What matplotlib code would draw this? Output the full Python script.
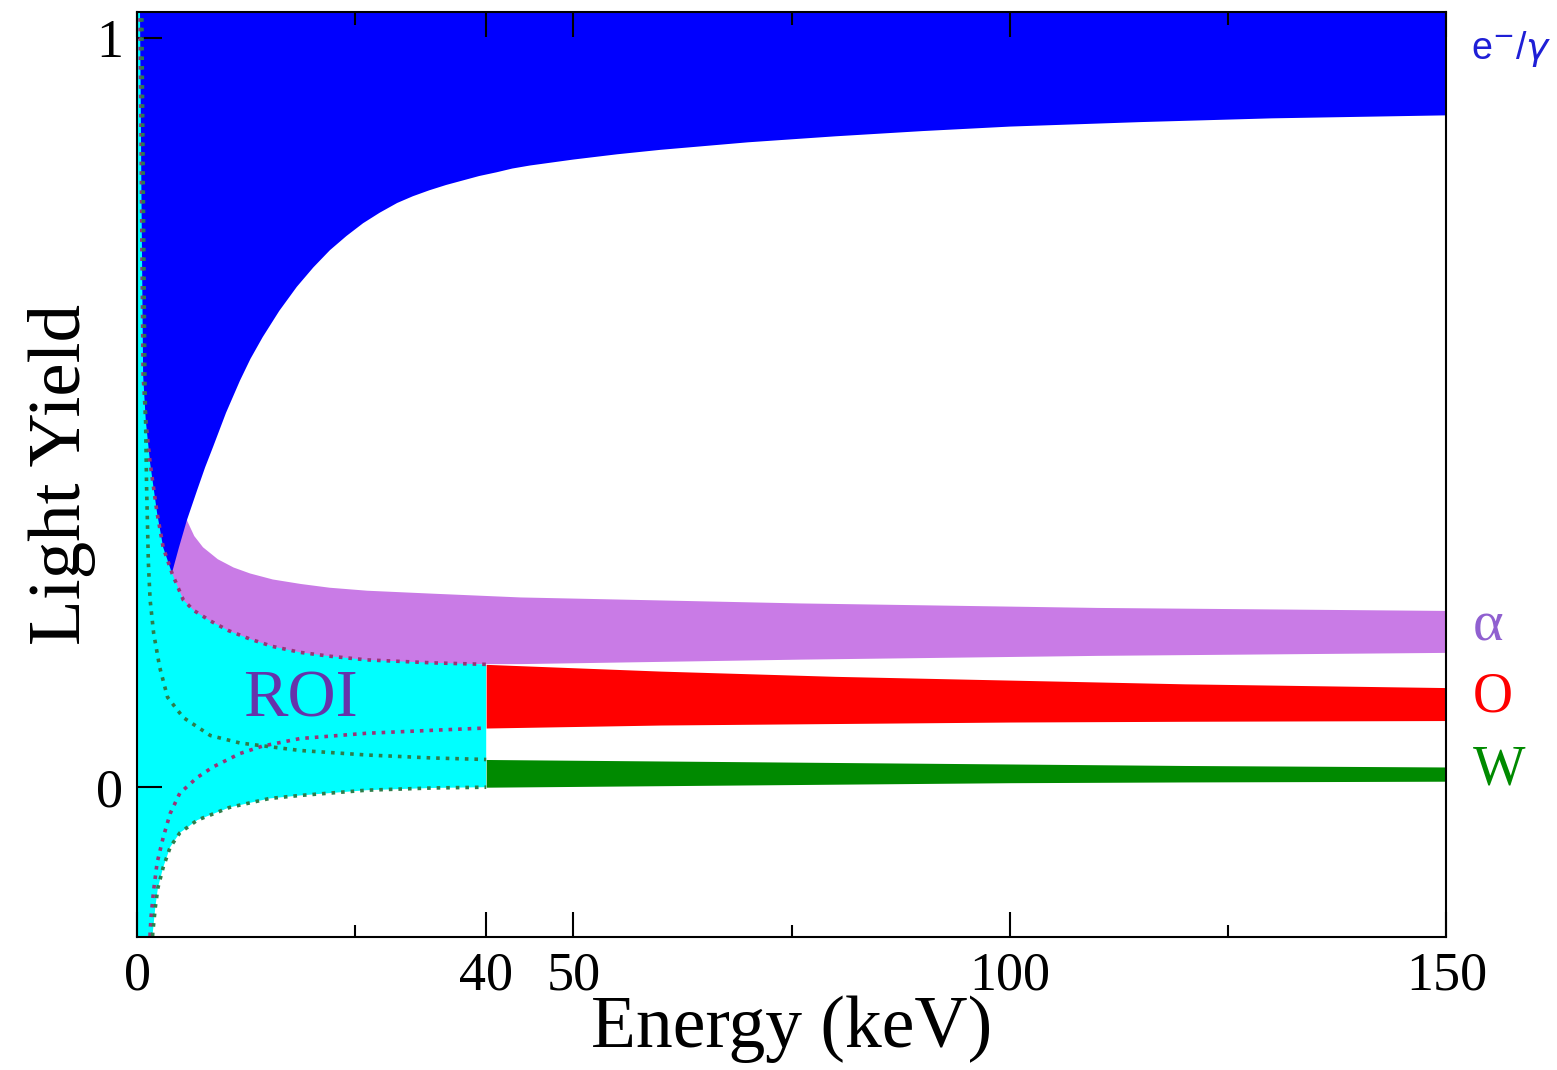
import matplotlib
matplotlib.use("Agg")
import matplotlib.pyplot as plt
import numpy as np

plt.rcParams['font.family'] = ['Liberation Serif', 'DejaVu Serif']
plt.rcParams['mathtext.fontset'] = 'dejavusans'

# e-/gamma band, lower edge (upper edge is above the plot)
eg_x = [0, 1.0, 2.0, 3.0, 4.0, 4.8, 5.7, 6.9, 7.8, 8.7, 10.2, 11.8, 13.0, 14.4, 16.3,
        18.3, 20.2, 22.1, 24.0, 25.9, 27.8, 29.8, 31.6, 33.5, 35.4, 37.3, 39.2, 41.2,
        43.0, 45, 50, 55, 60, 70, 80, 90, 100, 115, 130, 150]
eg_low = [-1.0, -0.1, 0.1, 0.22, 0.286, 0.320, 0.356, 0.397, 0.427, 0.454, 0.500, 0.543,
          0.572, 0.601, 0.636, 0.668, 0.694, 0.717, 0.736, 0.753, 0.767, 0.780, 0.789,
          0.797, 0.804, 0.810, 0.816, 0.821, 0.826, 0.830, 0.838, 0.845, 0.851, 0.861,
          0.869, 0.876, 0.882, 0.888, 0.893, 0.897]
eg_top = 1.5

# alpha band
al_x = [1, 2, 3, 4, 5.7, 6.5, 7.5, 9.2, 11, 12.9, 15.5, 18.7, 22, 26.3, 33.9, 43.9,
        60, 76, 110, 150]
al_hi = [1.5, 1.0, 0.7, 0.5, 0.356, 0.336, 0.321, 0.305, 0.294, 0.286, 0.278, 0.272,
         0.267, 0.263, 0.259, 0.254, 0.250, 0.246, 0.240, 0.236]
al_lo = [0.45, 0.36, 0.31, 0.28, 0.24, 0.232, 0.224, 0.214, 0.205, 0.197, 0.188, 0.179,
         0.174, 0.169, 0.165, 0.165, 0.168, 0.171, 0.176, 0.180]

# O band edges below 40 keV (dotted)
o_up_x = [0.3, 0.5, 0.7, 1.0, 1.5, 2.3, 3.0, 4.0, 5.3, 6.5, 8.4, 10.5, 12.9, 15.5,
          18.7, 22, 26.3, 33.9, 40]
o_up = [1.1, 0.8, 0.55, 0.49, 0.433, 0.366, 0.320, 0.286, 0.250, 0.236, 0.222, 0.209,
        0.198, 0.188, 0.180, 0.175, 0.170, 0.166, 0.164]
o_lo_x = [1.4, 1.5, 1.6, 1.9, 2.3, 3.0, 3.8, 4.9, 6.9, 8.7, 11.8, 14.4, 18.7, 26.3, 33.9, 40]
o_lo = [-0.25, -0.195, -0.174, -0.138, -0.101, -0.067, -0.035, -0.008, 0.013, 0.027,
        0.045, 0.055, 0.065, 0.072, 0.076, 0.079]

# W band edges below 40 keV (dotted)
w_up_x = [0.5, 0.9, 1.1, 1.3, 1.5, 1.9, 2.6, 3.5, 5.3, 8.4, 11.8, 18.7, 26.3, 33.9, 40]
w_up = [1.1, 0.55, 0.40, 0.30, 0.25, 0.206, 0.160, 0.120, 0.093, 0.069, 0.059, 0.049,
        0.043, 0.039, 0.037]
w_lo_x = [1.6, 1.8, 2.1, 2.4, 3.0, 3.8, 4.9, 6.9, 10.6, 15.2, 18.7, 26.3, 33.9, 40]
w_lo = [-0.25, -0.195, -0.160, -0.134, -0.107, -0.080, -0.061, -0.044, -0.027, -0.015,
        -0.011, -0.004, -0.001, 0.0]

# O and W bands above 40 keV
hi_x = [40, 60, 80, 100, 120, 150]
o_top = [0.164, 0.155, 0.148, 0.143, 0.138, 0.133]
o_bot = [0.079, 0.083, 0.085, 0.087, 0.088, 0.089]
w_top = [0.037, 0.035, 0.033, 0.031, 0.029, 0.027]
w_bot = [0.0, 0.002, 0.004, 0.006, 0.007, 0.008]

fig = plt.figure(figsize=(15.57, 10.70), dpi=100)
ax = fig.add_axes([0.088, 0.1243, 0.841, 0.8645])

ax.fill_between(al_x, al_lo, al_hi, color='#c97be6', lw=0)
ax.fill_between(eg_x, eg_low, eg_top, color='#0000ff', lw=0)

# ROI region between O upper edge and W lower edge
roi_x = np.concatenate([[0], o_up_x, w_lo_x[::-1], [0]])
roi_y = np.concatenate([[1.2], o_up, w_lo[::-1], [-0.3]])
ax.fill(roi_x, roi_y, color='#00ffff', lw=0)

ax.fill_between(hi_x, o_bot, o_top, color='#ff0000', lw=0)
ax.fill_between(hi_x, w_bot, w_top, color='#008a00', lw=0)

ax.plot(o_up_x, o_up, ':', color='#9a3478', lw=2.6)
ax.plot(o_lo_x, o_lo, ':', color='#9a3478', lw=2.6)
ax.plot(w_up_x, w_up, ':', color='#2e7d4a', lw=2.6)
ax.plot(w_lo_x, w_lo, ':', color='#2e7d4a', lw=2.6)

ax.text(18.7, 0.116, 'ROI', color='#6633aa', fontsize=48, ha='center', va='center')

ax.text(152.8, 0.985, r'e$^{-}$/$\gamma$', color='#1f1fd6', fontsize=27, ha='left', va='center',
        family=['Liberation Sans', 'DejaVu Sans'], clip_on=False)
ax.text(153, 0.215, '\u03b1', color='#9060d0', fontsize=42, ha='left', va='center', clip_on=False)
ax.text(153, 0.120, 'O', color='#ff0000', fontsize=40, ha='left', va='center', clip_on=False)
ax.text(153, 0.022, 'W', color='#008a00', fontsize=40, ha='left', va='center', clip_on=False)

ax.set_xlim(0, 150)
ax.set_ylim(-0.2, 1.035)
ax.set_xticks([0, 40, 50, 100, 150])
ax.set_xticks([25, 75, 125], minor=True)
ax.set_yticks([0, 1])
ax.tick_params(axis='x', which='both', direction='in', top=True, labelsize=39, pad=10)
ax.tick_params(axis='x', which='major', length=18, width=1.5)
ax.tick_params(axis='x', which='minor', length=9, width=1.5)
ax.tick_params(axis='y', which='major', direction='in', length=18, width=1.5, labelsize=39, pad=10)
for s in ax.spines.values():
    s.set_linewidth(1.5)

ax.set_xlabel('Energy (keV)', fontsize=53, labelpad=-4)
ax.set_ylabel('Light Yield', fontsize=54, labelpad=0)

fig.savefig('out.png', dpi=100)
